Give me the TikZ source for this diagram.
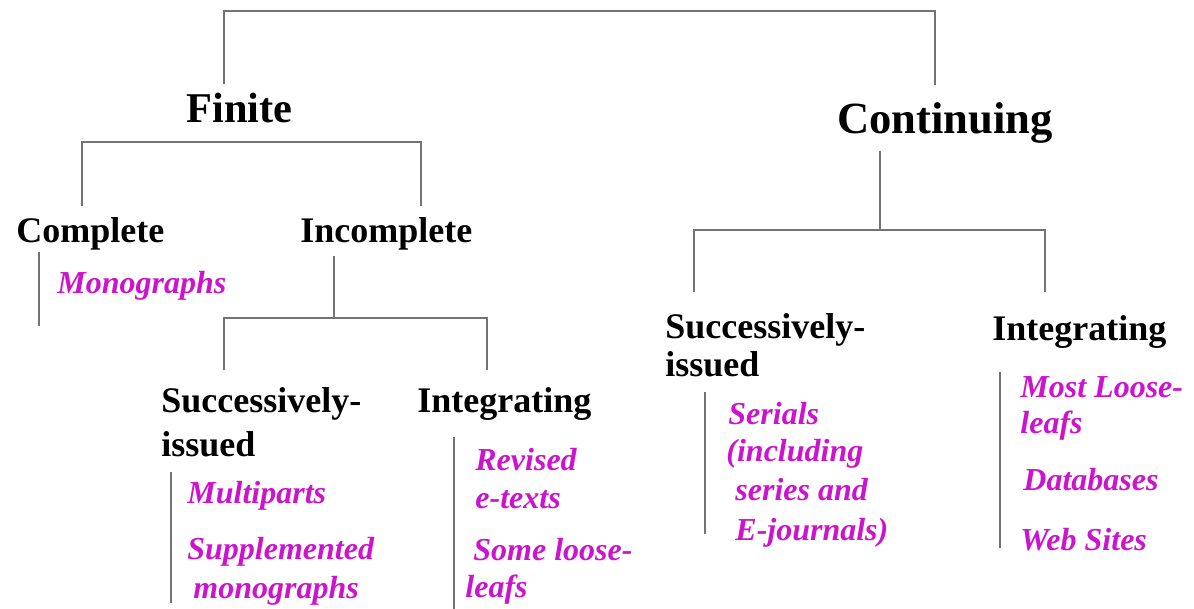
\documentclass[tikz,border=0pt]{standalone}
\usepackage{fontspec}
\setmainfont{Liberation Serif}
\definecolor{mag}{RGB}{204,20,204}
\definecolor{ln}{RGB}{115,115,115}
\begin{document}
\begin{tikzpicture}[x=0.5pt,y=-0.5pt,
  lbl/.style={anchor=base west,inner sep=0pt},
  toplbl/.style={lbl,font=\fontsize{21.2}{25}\selectfont\bfseries},
  toplblr/.style={lbl,font=\fontsize{22.3}{26}\selectfont\bfseries},
  midlbl/.style={lbl,font=\fontsize{18}{21}\selectfont\bfseries},
  leaf/.style={lbl,font=\fontsize{16}{19}\selectfont\bfseries\itshape,text=mag},
  conn/.style={draw=ln,line width=1.2pt},
  bar/.style={draw=ln,line width=1pt}]
\useasboundingbox[fill=white] (0,0) rectangle (1194,609);

% level 1
\node[toplbl] (finite) at (186,123) {Finite};
\node[toplblr] (cont) at (837,134) {Continuing};

% level 2 left
\node[midlbl] (complete) at (16,243) {Complete};
\node[midlbl] (incomplete) at (300,243) {Incomplete};
\node[leaf] (mono) at (57,293) {Monographs};

% level 3 left
\node[midlbl] (lsi1) at (161,412) {Successively-};
\node[midlbl] (lsi2) at (161,456) {issued};
\node[midlbl] (lint) at (417,412) {Integrating};
\node[leaf] (multi) at (187,503) {Multiparts};
\node[leaf] (supp1) at (187,559) {Supplemented};
\node[leaf] (supp2) at (193,598) {monographs};
\node[leaf] (rev1) at (475,470) {Revised};
\node[leaf] (rev2) at (475,508) {e-texts};
\node[leaf] (some1) at (473,560) {Some loose-};
\node[leaf] (some2) at (465,597) {leafs};

% level 2 right
\node[midlbl] (rsi1) at (665,338) {Successively-};
\node[midlbl] (rsi2) at (665,376) {issued};
\node[midlbl] (rint) at (992,340) {Integrating};
\node[leaf] (ser1) at (728,424) {Serials};
\node[leaf] (ser2) at (726,461) {(including};
\node[leaf] (ser3) at (735,500) {series and};
\node[leaf] (ser4) at (735,540) {E-journals)};
\node[leaf] (most1) at (1020,397) {Most Loose-};
\node[leaf] (most2) at (1020,433) {leafs};
\node[leaf] (db) at (1023,490) {Databases};
\node[leaf] (web) at (1020,550) {Web Sites};

% connector end points
\coordinate (tL) at (224,84);
\coordinate (tR) at (935,85);
\coordinate (tY) at (0,11);
\coordinate (fL) at (82,206);
\coordinate (fR) at (421,206);
\coordinate (fY) at (0,142);
\coordinate (cA) at (39,252);
\coordinate (cB) at (39,326);
\coordinate (iA) at (334,256);
\coordinate (iL) at (224,370);
\coordinate (iR) at (487,370);
\coordinate (iY) at (0,318);
\coordinate (lsA) at (171,472);
\coordinate (lsB) at (171,603);
\coordinate (liA) at (454,437);
\coordinate (liB) at (454,609);
\coordinate (kA) at (880,151);
\coordinate (kL) at (694,292);
\coordinate (kR) at (1045,292);
\coordinate (kY) at (0,230);
\coordinate (rsA) at (705,392);
\coordinate (rsB) at (705,534);
\coordinate (riA) at (1000,372);
\coordinate (riB) at (1000,548);

% connectors
\draw[conn] (tL) -- (tL |- tY) -- (tR |- tY) -- (tR);
\draw[conn] (fL) -- (fL |- fY) -- (fR |- fY) -- (fR);
\draw[bar] (cA) -- (cB);
\draw[conn] (iA) -- (iA |- iY);
\draw[conn] (iL) -- (iL |- iY) -- (iR |- iY) -- (iR);
\draw[bar] (lsA) -- (lsB);
\draw[bar] (liA) -- (liB);
\draw[conn] (kA) -- (kA |- kY);
\draw[conn] (kL) -- (kL |- kY) -- (kR |- kY) -- (kR);
\draw[bar] (rsA) -- (rsB);
\draw[bar] (riA) -- (riB);
\end{tikzpicture}
\end{document}
